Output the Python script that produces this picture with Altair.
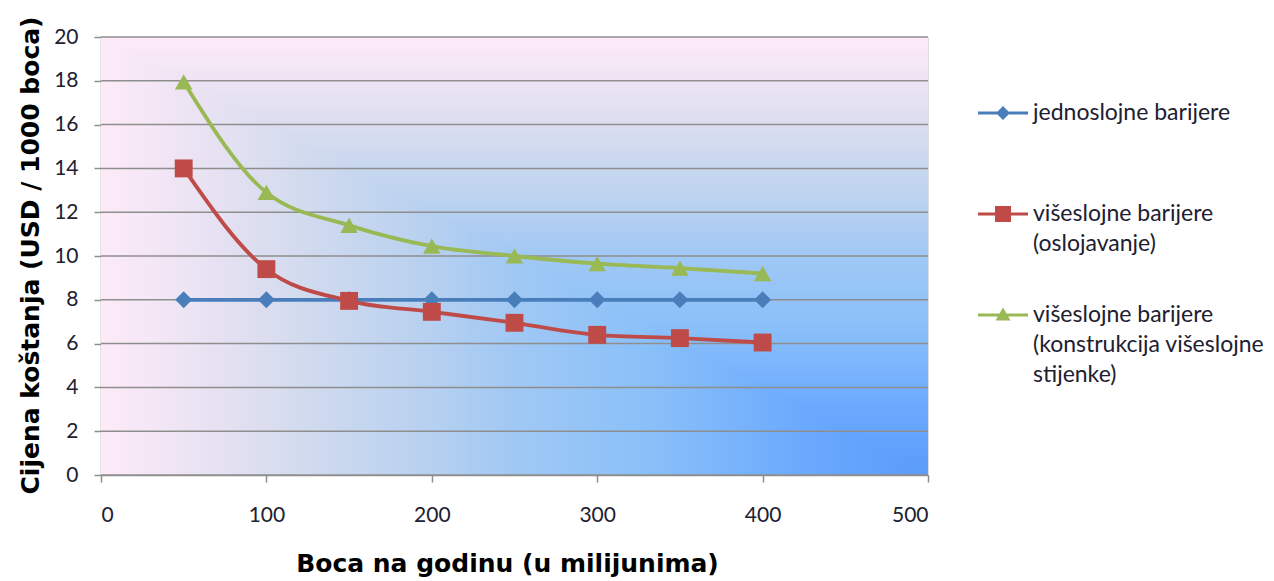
import altair as alt
import pandas as pd

# ---- data ----
x_vals = [50, 100, 150, 200, 250, 300, 350, 400]
single_layer = [8, 8, 8, 8, 8, 8, 8, 8]
multi_coating = [14, 9.4, 7.95, 7.45, 6.95, 6.4, 6.25, 6.05]
multi_wall = [17.95, 12.9, 11.4, 10.45, 10, 9.65, 9.45, 9.2]

series_names = [
    "jednoslojne barijere",
    "višeslojne barijere (oslojavanje)",
    "višeslojne barijere (konstrukcija višeslojne stijenke)",
]
legend_lines = [
    ["jednoslojne barijere"],
    ["višeslojne barijere", "(oslojavanje)"],
    ["višeslojne barijere", "(konstrukcija višeslojne", "stijenke)"],
]
series_colors = ["#4A7EBB", "#BE4B48", "#98B954"]
marker_shapes = ["diamond", "square", "triangle-up"]
marker_sizes = [290, 320, 310]

y_ticks = [0, 2, 4, 6, 8, 10, 12, 14, 16, 18, 20]
x_ticks = [0, 100, 200, 300, 400, 500]

x_title = "Boca na godinu (u milijunima)"
y_title = "Cijena koštanja (USD / 1000 boca)"

# background (corner gradient) pieces
bg_x = [0]
bg_x2 = [500]
bg_y = [0]
bg_y2 = [20]
diag_x = [0, 500]
diag_y = [20, 0]
diag_top = [20, 20]
grad_offsets = [0.0, 0.07, 0.24, 0.40, 0.50, 0.66, 0.85, 1.0]
grad_colors = ["#FDEAF8", "#F3E6F5", "#D3DBEE", "#B6D0F0", "#A0C8F4",
               "#8AC0F9", "#6BA9FE", "#5B9BFA"]

# legend symbols: line segment + marker as one path
legend_paths = [
    "M-1,-0.06L1,-0.06L1,0.06L-1,0.06Z M0,-0.28L0.28,0L0,0.28L-0.28,0Z",
    "M-1,-0.06L1,-0.06L1,0.06L-1,0.06Z M-0.32,-0.32L0.32,-0.32L0.32,0.32L-0.32,0.32Z",
    "M-1,-0.06L1,-0.06L1,0.06L-1,0.06Z M0,-0.3L0.3,0.22L-0.3,0.22Z",
]

# ---- tables ----
rows = []
for name, vals in zip(series_names, [single_layer, multi_coating, multi_wall]):
    for xv, yv in zip(x_vals, vals):
        rows.append({"x": xv, "y": yv, "series": name})
df = pd.DataFrame(rows)
bg_df = pd.DataFrame({"x": bg_x, "x2": bg_x2, "y": bg_y, "y2": bg_y2})
diag_df = pd.DataFrame({"x": diag_x, "y": diag_y, "top": diag_top})
grid_df = pd.DataFrame({"y": y_ticks})

GRAY = "#8E8E8E"
xs = alt.Scale(domain=[0, 500], nice=False, zero=True)
ys = alt.Scale(domain=[0, 20], nice=False)

x_axis = alt.Axis(
    values=x_ticks, grid=False, domainColor=GRAY, domainWidth=1.5,
    tickColor=GRAY, tickWidth=1.5, tickSize=7, labelFont="Lato",
    labelFontSize=21, labelColor="#202030", labelPadding=22,
    title=x_title, titleFont="DejaVu Sans", titleFontWeight="bold",
    titleFontSize=25, titleColor="#000000", titleX=406, titleY=88,
    titleBaseline="middle", titleAlign="center",
)
y_axis = alt.Axis(
    values=y_ticks, grid=False, domainColor=GRAY, domainWidth=1.5,
    tickColor=GRAY, tickWidth=1.5, tickSize=7, labelFont="Lato",
    labelFontSize=21, labelColor="#202030", labelPadding=16,
    title=y_title, titleFont="DejaVu Sans", titleFontWeight="bold",
    titleFontSize=25, titleColor="#000000", titleX=-71, titleY=218,
    titleAngle=270, titleBaseline="middle", titleAlign="center",
)


def X(field="x"):
    return alt.X(f"{field}:Q", scale=xs, axis=x_axis)


def Y(field="y"):
    return alt.Y(f"{field}:Q", scale=ys, axis=y_axis)


stops = [alt.GradientStop(offset=o, color=c) for o, c in zip(grad_offsets, grad_colors)]
h_grad = alt.LinearGradient(gradient="linear", stops=stops, x1=0, y1=0, x2=1, y2=0)
v_grad = alt.LinearGradient(gradient="linear", stops=stops, x1=0, y1=0, x2=0, y2=1)

bg_rect = alt.Chart(bg_df).mark_rect(fill=h_grad).encode(
    x=X(), x2="x2:Q", y=Y(), y2="y2:Q"
)
bg_tri = alt.Chart(diag_df).mark_area(fill=v_grad, strokeWidth=0).encode(
    x=X(), y=Y(), y2="top:Q"
)
grid = alt.Chart(grid_df).mark_rule(color=GRAY, strokeWidth=1.5).encode(y=Y())

color_scale = alt.Scale(domain=series_names, range=series_colors)

lines = alt.Chart(df).mark_line(interpolate="monotone", strokeWidth=3.8).encode(
    x=X(), y=Y(), color=alt.Color("series:N", scale=color_scale, legend=None)
)

point_layers = []
for name, shp, sz in zip(series_names, marker_shapes, marker_sizes):
    point_layers.append(
        alt.Chart(df)
        .transform_filter(alt.datum.series == name)
        .mark_point(filled=True, shape=shp, size=sz, opacity=1)
        .encode(x=X(), y=Y(), color=alt.Color("series:N", scale=color_scale, legend=None))
    )

label_expr = ""
for name, ln in zip(series_names[:-1], legend_lines[:-1]):
    arr = "[" + ",".join("'" + s + "'" for s in ln) + "]"
    label_expr += f"datum.label == '{name}' ? {arr} : "
label_expr += "[" + ",".join("'" + s + "'" for s in legend_lines[-1]) + "]"

leg_kwargs = dict(
    title=None, orient="none", legendX=877, legendY=51, padding=0,
    symbolSize=2500, symbolStrokeWidth=0, symbolOpacity=1,
    labelFont="Lato", labelFontSize=23, labelColor="#202030",
    labelOffset=5, labelLimit=400, labelExpr=label_expr,
    labelBaseline="middle", rowPadding=4, gridAlign="all",
)

legend_layer = (
    alt.Chart(df)
    .transform_filter("false")
    .mark_point(filled=True, opacity=0)
    .encode(
        color=alt.Color("series:N", scale=color_scale, legend=alt.Legend(**leg_kwargs)),
        shape=alt.Shape("series:N", scale=alt.Scale(domain=series_names, range=legend_paths),
                        legend=alt.Legend(**leg_kwargs)),
    )
)

chart = (
    alt.layer(bg_rect, bg_tri, grid, lines, *point_layers, legend_layer)
    .resolve_scale(color="independent", shape="independent")
    .properties(
        width=827, height=438,
        autosize=alt.AutoSizeParams(type="none"),
        padding={"left": 93, "top": 29, "right": 335, "bottom": 104},
    )
    .configure_view(stroke=None)
    .configure(background="white", style={"guide-label": {"lineHeight": 30}})
)

chart.save("out.html", embed_options={"renderer": "svg", "actions": False})
